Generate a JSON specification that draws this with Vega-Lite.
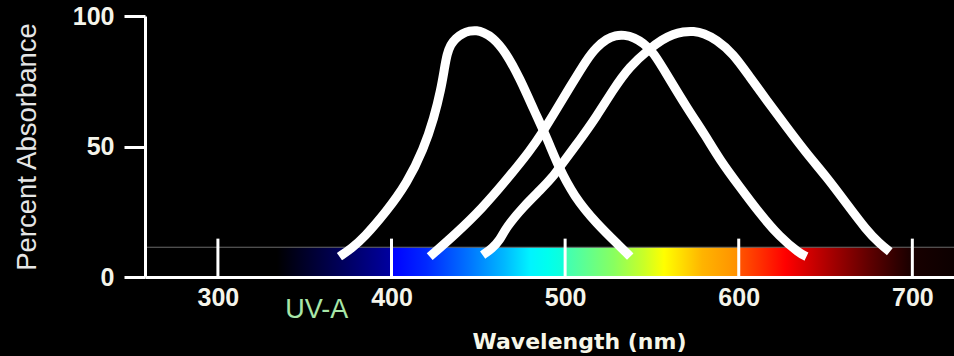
{
  "$schema": "https://vega.github.io/schema/vega-lite/v6.json",
  "width": 809,
  "height": 261,
  "autosize": {"type": "none"},
  "padding": {"left": 145, "top": 16, "right": 0, "bottom": 79},
  "background": "#000000",
  "config": {"view": {"stroke": null}},
  "datasets": {
    "band": [{"from": 334, "to": 724, "low": 0, "high": 11.4}],
    "ticks": [{"nm": 300}, {"nm": 400}, {"nm": 500}, {"nm": 600}, {"nm": 700}],
    "notes": [{"text": "UV-A", "nm": 357, "v": -15.7}],
    "curves": [
      {"cone": "S", "nm": 370, "v": 7.8},
      {"cone": "S", "nm": 377, "v": 11},
      {"cone": "S", "nm": 384, "v": 15},
      {"cone": "S", "nm": 397, "v": 25},
      {"cone": "S", "nm": 409, "v": 36},
      {"cone": "S", "nm": 418.5, "v": 49},
      {"cone": "S", "nm": 424.5, "v": 61},
      {"cone": "S", "nm": 428.5, "v": 72},
      {"cone": "S", "nm": 430.5, "v": 80},
      {"cone": "S", "nm": 432, "v": 85.5},
      {"cone": "S", "nm": 434, "v": 89},
      {"cone": "S", "nm": 437, "v": 91.5},
      {"cone": "S", "nm": 441, "v": 93.4},
      {"cone": "S", "nm": 445, "v": 94.3},
      {"cone": "S", "nm": 449, "v": 94.5},
      {"cone": "S", "nm": 453, "v": 93.7},
      {"cone": "S", "nm": 458, "v": 92},
      {"cone": "S", "nm": 465.5, "v": 86.5},
      {"cone": "S", "nm": 474, "v": 76},
      {"cone": "S", "nm": 482, "v": 64},
      {"cone": "S", "nm": 490, "v": 52.5},
      {"cone": "S", "nm": 496, "v": 42.5},
      {"cone": "S", "nm": 505, "v": 31},
      {"cone": "S", "nm": 518, "v": 20.5},
      {"cone": "S", "nm": 532, "v": 11.5},
      {"cone": "S", "nm": 537.5, "v": 7.8},
      {"cone": "M", "nm": 422, "v": 7.8},
      {"cone": "M", "nm": 437, "v": 16.5},
      {"cone": "M", "nm": 452.5, "v": 26.5},
      {"cone": "M", "nm": 466, "v": 37},
      {"cone": "M", "nm": 480, "v": 48.5},
      {"cone": "M", "nm": 487, "v": 55.5},
      {"cone": "M", "nm": 493, "v": 62},
      {"cone": "M", "nm": 503, "v": 73},
      {"cone": "M", "nm": 512.6, "v": 83.5},
      {"cone": "M", "nm": 518, "v": 88},
      {"cone": "M", "nm": 524, "v": 91.3},
      {"cone": "M", "nm": 529, "v": 92.6},
      {"cone": "M", "nm": 534, "v": 92.8},
      {"cone": "M", "nm": 540, "v": 91.7},
      {"cone": "M", "nm": 545, "v": 89.6},
      {"cone": "M", "nm": 550.5, "v": 86.5},
      {"cone": "M", "nm": 560, "v": 76},
      {"cone": "M", "nm": 570, "v": 65},
      {"cone": "M", "nm": 581, "v": 54},
      {"cone": "M", "nm": 589, "v": 45},
      {"cone": "M", "nm": 600.5, "v": 34.6},
      {"cone": "M", "nm": 612, "v": 24.4},
      {"cone": "M", "nm": 623.5, "v": 15.4},
      {"cone": "M", "nm": 635, "v": 9.1},
      {"cone": "M", "nm": 639, "v": 7.8},
      {"cone": "L", "nm": 452.5, "v": 8.4},
      {"cone": "L", "nm": 458, "v": 11},
      {"cone": "L", "nm": 462.5, "v": 14.2},
      {"cone": "L", "nm": 466, "v": 19},
      {"cone": "L", "nm": 476, "v": 27},
      {"cone": "L", "nm": 486, "v": 33.5},
      {"cone": "L", "nm": 493, "v": 38.4},
      {"cone": "L", "nm": 497, "v": 42.3},
      {"cone": "L", "nm": 508.5, "v": 52.5},
      {"cone": "L", "nm": 518, "v": 61.4},
      {"cone": "L", "nm": 527.5, "v": 71.6},
      {"cone": "L", "nm": 537, "v": 80.6},
      {"cone": "L", "nm": 548.7, "v": 87.5},
      {"cone": "L", "nm": 556, "v": 91},
      {"cone": "L", "nm": 562, "v": 93},
      {"cone": "L", "nm": 568, "v": 94},
      {"cone": "L", "nm": 574, "v": 94.2},
      {"cone": "L", "nm": 580, "v": 93.4},
      {"cone": "L", "nm": 587, "v": 91},
      {"cone": "L", "nm": 596.7, "v": 85.7},
      {"cone": "L", "nm": 606.3, "v": 76.7},
      {"cone": "L", "nm": 616, "v": 67.8},
      {"cone": "L", "nm": 627.4, "v": 57.6},
      {"cone": "L", "nm": 639, "v": 47.4},
      {"cone": "L", "nm": 650.5, "v": 38.4},
      {"cone": "L", "nm": 662, "v": 28.2},
      {"cone": "L", "nm": 673.5, "v": 18},
      {"cone": "L", "nm": 681, "v": 12.9},
      {"cone": "L", "nm": 687, "v": 9.7}
    ]
  },
  "layer": [
    {
      "data": {"name": "band"},
      "mark": {
        "type": "rect",
        "stroke": null,
        "fill": {
          "gradient": "linear",
          "x1": 0, "y1": 0, "x2": 1, "y2": 0,
          "stops": [
            {"offset": 0, "color": "#000000"},
            {"offset": 0.041, "color": "#000028"},
            {"offset": 0.0923, "color": "#000058"},
            {"offset": 0.1679, "color": "#0000a0"},
            {"offset": 0.1705, "color": "#0000ff"},
            {"offset": 0.2205, "color": "#0028ff"},
            {"offset": 0.2872, "color": "#0078ff"},
            {"offset": 0.3359, "color": "#00b8ff"},
            {"offset": 0.3744, "color": "#00f4ff"},
            {"offset": 0.4, "color": "#00ffee"},
            {"offset": 0.4244, "color": "#10ffd8"},
            {"offset": 0.4269, "color": "#40ffb4"},
            {"offset": 0.4974, "color": "#88ff60"},
            {"offset": 0.541, "color": "#c8ff28"},
            {"offset": 0.5718, "color": "#ffff00"},
            {"offset": 0.6282, "color": "#ffb400"},
            {"offset": 0.6808, "color": "#ff9000"},
            {"offset": 0.6833, "color": "#ff5400"},
            {"offset": 0.7179, "color": "#ff2a00"},
            {"offset": 0.7513, "color": "#ff0000"},
            {"offset": 0.8231, "color": "#a00000"},
            {"offset": 0.8744, "color": "#600000"},
            {"offset": 0.9154, "color": "#300000"},
            {"offset": 0.9385, "color": "#180000"},
            {"offset": 1, "color": "#0c0000"}
          ]
        }
      },
      "encoding": {
        "x": {"field": "from", "type": "quantitative", "scale": {"domain": [258, 724], "nice": false, "zero": false}},
        "x2": {"field": "to"},
        "y": {"field": "low", "type": "quantitative", "scale": {"domain": [0, 100], "nice": false, "zero": false}},
        "y2": {"field": "high"}
      }
    },
    {
      "data": {"name": "band"},
      "mark": {"type": "rule", "color": "#6a6a6a", "strokeWidth": 1},
      "encoding": {
        "y": {"field": "high", "type": "quantitative", "scale": {"domain": [0, 100], "nice": false, "zero": false}}
      }
    },
    {
      "data": {"name": "ticks"},
      "mark": {"type": "rule", "color": "#ffffff", "strokeWidth": 3},
      "encoding": {
        "x": {"field": "nm", "type": "quantitative", "scale": {"domain": [258, 724], "nice": false, "zero": false}},
        "y": {"datum": 0, "type": "quantitative", "scale": {"domain": [0, 100], "nice": false, "zero": false}},
        "y2": {"datum": 14.7}
      }
    },
    {
      "data": {"name": "curves"},
      "mark": {"type": "line", "color": "#ffffff", "strokeWidth": 9, "interpolate": "basis", "strokeCap": "butt", "strokeJoin": "round"},
      "encoding": {
        "x": {
          "field": "nm", "type": "quantitative",
          "scale": {"domain": [258, 724], "nice": false, "zero": false},
          "axis": {
            "values": [300, 400, 500, 600, 700],
            "title": "Wavelength (nm)",
            "ticks": false, "tickSize": 0, "grid": false, "zindex": 1,
            "domainColor": "#ffffff", "domainWidth": 3,
            "labelColor": "#f4f4ea", "labelFont": "Liberation Sans",
            "labelFontSize": 25, "labelFontWeight": "bold",
            "labelPadding": 8, "labelFlush": false,
            "titleFont": "DejaVu Sans", "titleFontSize": 22, "titleFontWeight": "bold",
            "titleColor": "#f6f6e8", "titleX": 434, "titleY": 71,
            "titleAlign": "center", "titleBaseline": "alphabetic"
          }
        },
        "y": {
          "field": "v", "type": "quantitative",
          "scale": {"domain": [0, 100], "nice": false, "zero": false},
          "axis": {
            "values": [0, 50, 100],
            "title": "Percent Absorbance",
            "tickSize": 21, "tickWidth": 3, "tickColor": "#ffffff", "grid": false, "zindex": 1,
            "domainColor": "#ffffff", "domainWidth": 3,
            "labelColor": "#f4f4ea", "labelFont": "Liberation Sans",
            "labelFontSize": 25, "labelFontWeight": "bold", "labelPadding": 10,
            "titleFont": "Liberation Sans", "titleFontSize": 27.5, "titleFontWeight": "normal",
            "titleColor": "#e6e6e6", "titlePadding": 31
          }
        },
        "detail": {"field": "cone", "type": "nominal"}
      }
    },
    {
      "data": {"name": "notes"},
      "mark": {"type": "text", "font": "Liberation Sans", "fontSize": 27, "color": "#a8e6a8", "align": "center", "baseline": "alphabetic"},
      "encoding": {
        "x": {"field": "nm", "type": "quantitative", "scale": {"domain": [258, 724], "nice": false, "zero": false}},
        "y": {"field": "v", "type": "quantitative", "scale": {"domain": [0, 100], "nice": false, "zero": false}},
        "text": {"field": "text"}
      }
    }
  ]
}
